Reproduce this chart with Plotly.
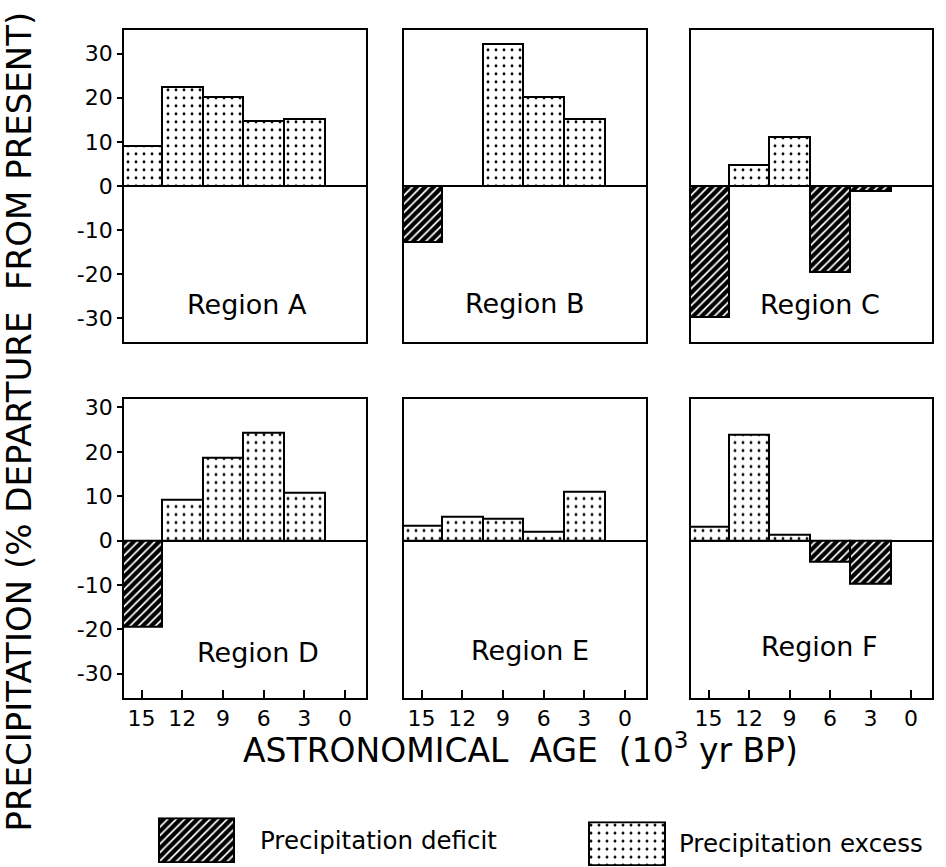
import plotly.graph_objects as go

# ---------------- data ----------------
ages = [15, 12, 9, 6, 3, 0]
age_labels = ["15", "12", "9", "6", "3", "0"]
region_names = ["Region A", "Region B", "Region C", "Region D", "Region E", "Region F"]
region_a = [9.0, 22.5, 20.3, 14.8, 15.1, None]
region_b = [-12.7, None, 32.2, 20.2, 15.1, None]
region_c = [-29.8, 4.7, 11.2, -19.6, -1.1, None]
region_d = [-19.5, 9.2, 18.6, 24.3, 10.7, None]
region_e = [3.4, 5.4, 5.0, 2.0, 11.0, None]
region_f = [3.1, 23.8, 1.3, -4.7, -9.6, None]
y_ticks = [-30, -20, -10, 0, 10, 20, 30]
y_tick_labels = ["-30", "-20", "-10", "0", "10", "20", "30"]
legend_labels = ["Precipitation deficit", "Precipitation excess"]
y_title = "PRECIPITATION\u00a0(%\u00a0DEPARTURE\u00a0\u00a0FROM\u00a0PRESENT)"
x_title = "ASTRONOMICAL\u00a0\u00a0AGE\u00a0\u00a0(10<sup>3</sup>\u00a0yr\u00a0BP)"

regions = [region_a, region_b, region_c, region_d, region_e, region_f]

# ---------------- layout geometry ----------------
W, H = 946, 867
FONT = "DejaVu Sans"


def xp(px):
    return px / W


def yp(py):
    return 1 - py / H


col_px = [(124, 366), (404, 646), (691, 932)]
row_px = [(27, 340), (397, 697)]
row_range = [(-35.4, 35.4), (-35.4, 32.0)]
x_range = [16.3, -1.55]
label_x = [7.2, 7.4, 6.75, 6.4, 7.0, 6.8]
label_y = [-26.9, -26.6, -26.9, -25.2, -24.8, -23.9]

hatch = dict(shape="/", size=6, solidity=0.7, fgcolor="black", bgcolor="white", fgopacity=1)
dots = dict(shape=".", size=8, solidity=0.1, fgcolor="black", bgcolor="white", fgopacity=1)
bar_line = dict(color="black", width=2)

fig = go.Figure()
layout = dict(
    width=W, height=H,
    margin=dict(l=0, r=0, t=0, b=0),
    paper_bgcolor="white", plot_bgcolor="white",
    showlegend=False, bargap=0, barmode="overlay",
    font=dict(family=FONT, color="black"),
)
annotations = []

for i, vals in enumerate(regions):
    r, c = divmod(i, 3)
    n = i + 1
    xa = "x" if n == 1 else f"x{n}"
    ya = "y" if n == 1 else f"y{n}"
    deficit = [v if (v is not None and v < 0) else None for v in vals]
    excess = [v if (v is not None and v > 0) else None for v in vals]
    fig.add_trace(go.Bar(x=ages, y=deficit, width=3, xaxis=xa, yaxis=ya,
                         marker=dict(color="white", pattern=hatch, line=bar_line)))
    fig.add_trace(go.Bar(x=ages, y=excess, width=3, xaxis=xa, yaxis=ya,
                         marker=dict(color="white", pattern=dots, line=bar_line)))
    bottom = r == 1
    left = c == 0
    xaxis = dict(
        domain=[xp(col_px[c][0]), xp(col_px[c][1])],
        anchor=ya, range=x_range, showgrid=False, zeroline=False,
        showline=True, mirror=True, linecolor="black", linewidth=1.8,
        fixedrange=True,
    )
    if bottom:
        xaxis.update(tickvals=ages, ticktext=age_labels, ticks="inside", ticklen=8,
                     tickwidth=1.5, tickcolor="black", showticklabels=True,
                     tickfont=dict(family=FONT, size=22, color="black"))
    else:
        xaxis.update(ticks="", showticklabels=False)
    yaxis = dict(
        domain=[yp(row_px[r][1]), yp(row_px[r][0])],
        anchor=xa, range=list(row_range[r]), showgrid=False,
        zeroline=True, zerolinecolor="black", zerolinewidth=2,
        showline=True, mirror=True, linecolor="black", linewidth=1.8,
        fixedrange=True,
    )
    if left:
        yaxis.update(tickvals=y_ticks, ticktext=y_tick_labels, ticks="outside", ticklen=5,
                     tickwidth=1.5, tickcolor="black", showticklabels=True,
                     tickfont=dict(family=FONT, size=22, color="black"))
    else:
        yaxis.update(ticks="", showticklabels=False)
    layout["xaxis" if n == 1 else f"xaxis{n}"] = xaxis
    layout["yaxis" if n == 1 else f"yaxis{n}"] = yaxis
    annotations.append(dict(
        x=label_x[i], y=label_y[i], xref=xa, yref=ya, text=region_names[i],
        showarrow=False, xanchor="center", yanchor="middle",
        font=dict(family=FONT, size=27, color="black"),
    ))

# legend swatches as bars on their own small axes
swatch_px = [((157, 236), (817, 863)), ((587, 667), (821, 866))]
swatch_patterns = [hatch, dots]
legend_text_x = [258, 677]
legend_text_y = [840, 843]
for k in range(2):
    n = 7 + k
    (x0, x1), (y0, y1) = swatch_px[k]
    fig.add_trace(go.Bar(x=[0], y=[1], width=1, xaxis=f"x{n}", yaxis=f"y{n}",
                         marker=dict(color="white", pattern=swatch_patterns[k], line=bar_line)))
    layout[f"xaxis{n}"] = dict(domain=[xp(x0), xp(x1)], anchor=f"y{n}", range=[-0.52, 0.52],
                               visible=False, fixedrange=True)
    layout[f"yaxis{n}"] = dict(domain=[yp(y1), yp(y0)], anchor=f"x{n}", range=[-0.03, 1.03],
                               visible=False, fixedrange=True)
    annotations.append(dict(
        x=xp(legend_text_x[k]), y=yp(legend_text_y[k]), xref="paper", yref="paper",
        text=legend_labels[k], showarrow=False, xanchor="left", yanchor="middle",
        font=dict(family=FONT, size=24.5, color="black"),
    ))

# axis titles
annotations.append(dict(
    x=xp(19), y=yp(420), xref="paper", yref="paper", text=y_title, textangle=-90,
    showarrow=False, xanchor="center", yanchor="middle",
    font=dict(family=FONT, size=34, color="black"),
))
annotations.append(dict(
    x=xp(520), y=yp(748), xref="paper", yref="paper", text=x_title,
    showarrow=False, xanchor="center", yanchor="middle",
    font=dict(family=FONT, size=33, color="black"),
))

layout["annotations"] = annotations
fig.update_layout(**layout)
fig.write_html("out.html")
